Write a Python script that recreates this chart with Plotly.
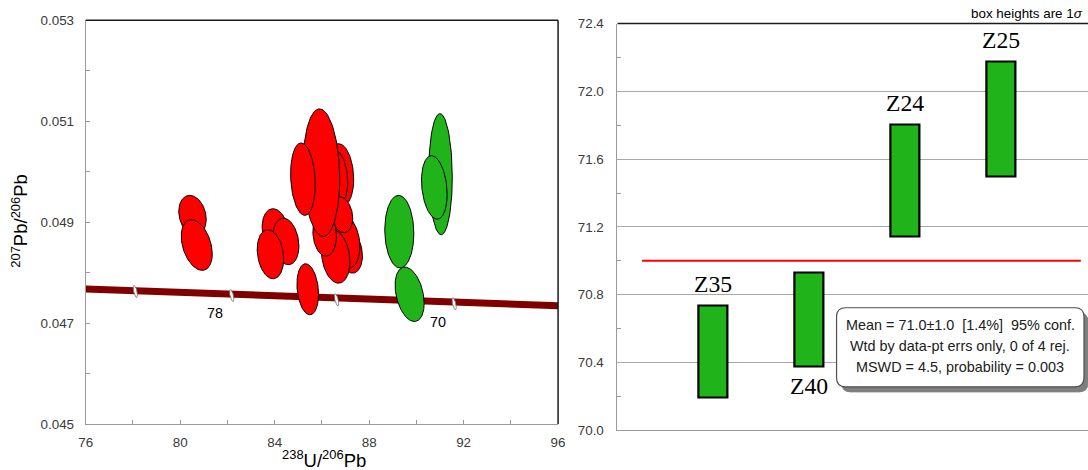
import numpy as np
import plotly.graph_objects as go

# figure canvas; the page shows it with an 8 px body margin inside a 1104x486 view
# that ends up at 1088x470
W, H = 1096, 478
INSET = 8
SX, SY = 1088 / 1104, 470 / 486

# ---- Tera-Wasserburg diagram: error ellipses (centre, half-widths, error correlation) ----
red_x = [80.52, 80.70, 84.04, 84.475, 83.82, 85.40, 86.795, 86.583, 87.198, 87.007,
         86.583, 86.838, 86.117, 85.977, 85.196]
red_y = [0.049133, 0.048546, 0.048810, 0.048617, 0.048363, 0.047669, 0.049940, 0.049881,
         0.048419, 0.048617, 0.048319, 0.049147, 0.048770, 0.049980, 0.049851]
red_sx = [0.581, 0.657, 0.573, 0.551, 0.560, 0.458, 0.551, 0.509, 0.517, 0.602,
          0.602, 0.467, 0.500, 0.776, 0.522]
red_sy = [0.000397, 0.000503, 0.000456, 0.000462, 0.000486, 0.000506, 0.000615, 0.000556,
          0.000430, 0.000530, 0.000530, 0.000357, 0.000446, 0.001264, 0.000718]
red_rho = [-0.2, -0.35, -0.2, -0.2, -0.2, -0.2, -0.15, -0.15, -0.2, -0.2,
           -0.2, -0.2, -0.1, -0.1, -0.15]

green_x = [91.024, 90.76, 89.277, 89.714]
green_y = [0.049950, 0.049688, 0.048810, 0.047569]
green_sx = [0.496, 0.543, 0.615, 0.615]
green_sy = [0.00120, 0.000629, 0.000720, 0.000540]
green_rho = [-0.05, -0.22, -0.05, -0.33]

# concordia band and its age markers (Ma)
concordia_x = [76, 96]
concordia_y = [0.047673, 0.047341]
age_tick_ma = [82, 78, 74, 70]
age_tick_x = [78.10, 82.18, 86.62, 91.60]
age_tick_y = [0.047625, 0.047546, 0.047460, 0.047381]
age_label_ma = ["78", "70"]
age_label_x = [81.49, 90.93]
age_label_y = [0.047196, 0.047030]

# ---- weighted mean plot ----
grains = ["Z35", "Z40", "Z24", "Z25"]
grain_age = [70.4625, 70.654, 71.472, 71.8365]
grain_sigma = [0.2725, 0.278, 0.331, 0.3405]
mean_age = 71.0
mean_text = ["Mean = 71.0±1.0  [1.4%]  95% conf.",
             "Wtd by data-pt errs only, 0 of 4 rej.",
             "MSWD = 4.5, probability = 0.003"]

RED = "#FF0000"
GREEN = "#20B41A"
AXIS_GRAY = "#9A9A9A"
TEXT_GRAY = "#3A3A3A"


def ellipse(cx, cy, sx, sy, rho, n=120):
    t = np.linspace(0, 2 * np.pi, n)
    x = cx + sx * np.cos(t)
    y = cy + sy * (rho * np.cos(t) + np.sqrt(1 - rho ** 2) * np.sin(t))
    return x, y


def pxx(x):
    """page pixel column -> paper fraction"""
    return min(max((x / SX - INSET) / W, 0.0), 1.0)


def pxy(y):
    """page pixel row -> paper fraction"""
    return min(max(1 - (y / SY - INSET) / H, 0.0), 1.0)


fig = go.Figure()

# concordia band
fig.add_trace(go.Scatter(x=concordia_x, y=concordia_y, mode="lines",
                         line=dict(color="#800000", width=7),
                         xaxis="x", yaxis="y", hoverinfo="skip", showlegend=False))
for ax_, ay_ in zip(age_tick_x, age_tick_y):
    ex, ey = ellipse(ax_, ay_, 0.09, 0.00012, -0.6, 40)
    fig.add_trace(go.Scatter(x=ex, y=ey, mode="lines", fill="toself",
                             fillcolor="white", line=dict(color="#707070", width=0.8),
                             xaxis="x", yaxis="y", hoverinfo="skip", showlegend=False))

# data-point error ellipses
for cx, cy, sx, sy, r in zip(red_x, red_y, red_sx, red_sy, red_rho):
    ex, ey = ellipse(cx, cy, sx, sy, r)
    fig.add_trace(go.Scatter(x=ex, y=ey, mode="lines", fill="toself", fillcolor=RED,
                             line=dict(color="black", width=1),
                             xaxis="x", yaxis="y", hoverinfo="skip", showlegend=False))
for cx, cy, sx, sy, r in zip(green_x, green_y, green_sx, green_sy, green_rho):
    ex, ey = ellipse(cx, cy, sx, sy, r)
    fig.add_trace(go.Scatter(x=ex, y=ey, mode="lines", fill="toself", fillcolor=GREEN,
                             line=dict(color="black", width=1),
                             xaxis="x", yaxis="y", hoverinfo="skip", showlegend=False))

# weighted-mean boxes
pos = list(range(1, len(grains) + 1))
fig.add_trace(go.Bar(x=pos, y=[2 * s for s in grain_sigma],
                     base=[a - s for a, s in zip(grain_age, grain_sigma)],
                     width=0.30, marker=dict(color=GREEN, line=dict(color="black", width=2.2)),
                     xaxis="x2", yaxis="y2", hoverinfo="skip", showlegend=False))
fig.add_trace(go.Scatter(x=[0.256, 4.835], y=[mean_age, mean_age], mode="lines",
                         line=dict(color="#FF0000", width=2),
                         xaxis="x2", yaxis="y2", hoverinfo="skip", showlegend=False))

annotations = []
for lbl, lx, ly in zip(age_label_ma, age_label_x, age_label_y):
    annotations.append(dict(x=lx, y=ly, xref="x", yref="y", text=lbl, showarrow=False,
                            xanchor="center", yanchor="middle",
                            font=dict(family="Liberation Sans", size=14.4, color="black")))

for i, (g, a, s) in enumerate(zip(grains, grain_age, grain_sigma)):
    below = g == "Z40"
    annotations.append(dict(x=pos[i], y=(a - s) if below else (a + s), xref="x2", yref="y2",
                            text=g, showarrow=False, yshift=-19.6 if below else 21.7,
                            xanchor="center", yanchor="middle",
                            font=dict(family="Liberation Serif", size=23.7, color="black")))

# axis titles
annotations.append(dict(x=pxx(324), y=pxy(459), xref="paper", yref="paper",
                        xanchor="center", yanchor="middle",
                        text="<sup>238</sup>U/<sup>206</sup>Pb", showarrow=False,
                        font=dict(family="Liberation Sans", size=18.5, color="black")))
annotations.append(dict(x=pxx(20), y=pxy(221), xref="paper", yref="paper", textangle=-90,
                        xanchor="center", yanchor="middle",
                        text="<sup>207</sup>Pb/<sup>206</sup>Pb", showarrow=False,
                        font=dict(family="Liberation Sans", size=18.5, color="black")))
annotations.append(dict(x=pxx(1084), y=pxy(14), xref="paper", yref="paper",
                        xanchor="right", yanchor="middle",
                        text="box heights are 1<i>σ</i>", showarrow=False,
                        font=dict(family="Liberation Sans", size=13.4, color="black")))

# statistics box
bx0, by0, bx1, by1, rad = 836, 308, 1083, 387, 9
for k, line in enumerate(mean_text):
    annotations.append(dict(x=pxx((bx0 + bx1) / 2), y=pxy([325, 346, 367][k]),
                            xref="paper", yref="paper", text=line, showarrow=False,
                            xanchor="center", yanchor="middle",
                            font=dict(family="Liberation Sans", size=14.4, color="#202020")))


def rounded_rect(x0, y0, x1, y1, r):
    p = lambda x, y: f"{pxx(x):.5f},{pxy(y):.5f}"
    return (f"M {p(x0 + r, y0)} L {p(x1 - r, y0)} Q {p(x1, y0)} {p(x1, y0 + r)} "
            f"L {p(x1, y1 - r)} Q {p(x1, y1)} {p(x1 - r, y1)} "
            f"L {p(x0 + r, y1)} Q {p(x0, y1)} {p(x0, y1 - r)} "
            f"L {p(x0, y0 + r)} Q {p(x0, y0)} {p(x0 + r, y0)} Z")


shapes = [
    # frame of the concordia plot (top and right)
    dict(type="line", xref="x domain", yref="y domain", x0=0, x1=1, y0=1, y1=1,
         line=dict(color="#1A1A1A", width=1.5)),
    dict(type="line", xref="x domain", yref="y domain", x0=1, x1=1, y0=0, y1=1,
         line=dict(color="#1A1A1A", width=1.5)),
    # top border of the mean plot
    dict(type="line", xref="x2 domain", yref="y2 domain", x0=0, x1=1, y0=1, y1=1,
         line=dict(color="#1A1A1A", width=1.5)),
    # statistics box with shadow
    dict(type="path", xref="paper", yref="paper", layer="above",
         path=rounded_rect(bx0 + 5, by0 + 5, bx1 + 4, by1 + 5, rad),
         fillcolor="#7F7F7F", line=dict(color="#7F7F7F", width=1)),
    dict(type="path", xref="paper", yref="paper", layer="above",
         path=rounded_rect(bx0, by0, bx1, by1, rad),
         fillcolor="white", line=dict(color="#505050", width=1.2)),
]

tickfont = dict(family="Liberation Sans", size=13.4, color=TEXT_GRAY)

fig.update_layout(
    width=W, height=H, autosize=False, margin=dict(l=0, r=0, t=0, b=0, pad=0),
    paper_bgcolor="white", plot_bgcolor="white", showlegend=False,
    xaxis=dict(domain=[pxx(86.5), pxx(558)], range=[76, 96], dtick=4, tick0=76,
               showgrid=False, zeroline=False, showline=True, linecolor=AXIS_GRAY,
               ticks="inside", ticklen=4, tickcolor=AXIS_GRAY, tickfont=tickfont,
               ticklabelstandoff=6,
               minor=dict(dtick=2, ticks="inside", ticklen=4, tickcolor=AXIS_GRAY),
               anchor="y"),
    yaxis=dict(domain=[pxy(424), pxy(21)], range=[0.045, 0.053], dtick=0.002, tick0=0.045,
               tickformat=".3f", showgrid=False, zeroline=False, showline=True,
               linecolor=AXIS_GRAY, ticks="inside", ticklen=4, tickcolor=AXIS_GRAY,
               tickfont=tickfont, ticklabelstandoff=8,
               minor=dict(dtick=0.001, ticks="inside", ticklen=4, tickcolor=AXIS_GRAY),
               anchor="x"),
    xaxis2=dict(domain=[pxx(617.3), 1.0], range=[0, 4.92], showgrid=False, zeroline=False,
                showline=True, linecolor=AXIS_GRAY, showticklabels=False, ticks="",
                anchor="y2"),
    yaxis2=dict(domain=[pxy(430.3), pxy(24.3)], range=[70.0, 72.4], dtick=0.4, tick0=70.0,
                tickformat=".1f", showgrid=True, gridcolor="#A8A8A8", gridwidth=1,
                zeroline=False, showline=True, linecolor=AXIS_GRAY, ticks="",
                tickfont=tickfont, ticklabelstandoff=10,
                minor=dict(dtick=0.2, ticks="inside", ticklen=4, tickcolor=AXIS_GRAY,
                           showgrid=False),
                anchor="x2"),
    annotations=annotations, shapes=shapes, bargap=0,
)

fig.write_html("out.html")
